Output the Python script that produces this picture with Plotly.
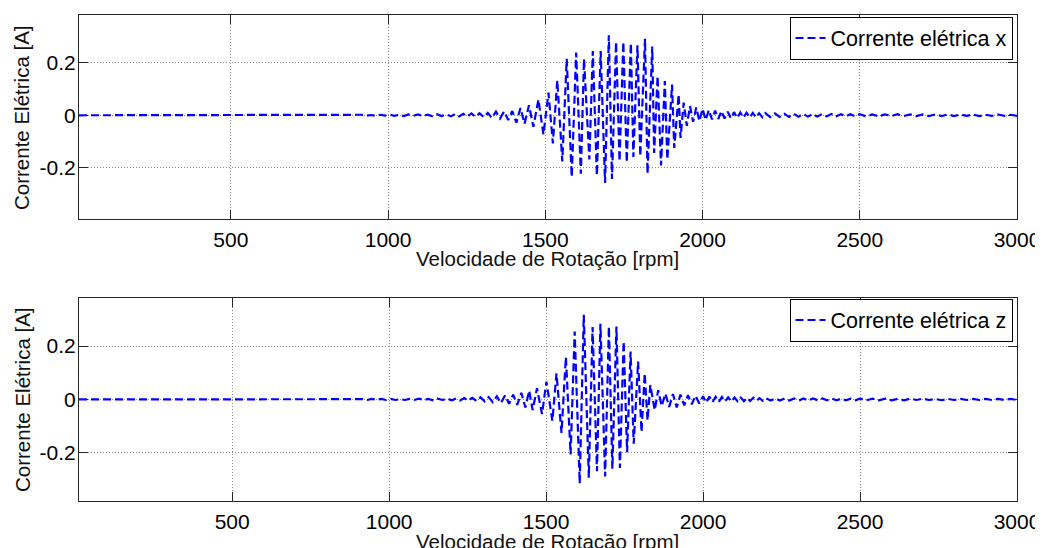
import plotly.graph_objects as go
from plotly.subplots import make_subplots

# ---------------- data ----------------
rpm_x = [17, 900,
         915, 930, 945, 960, 975, 990, 1005, 1020, 1035, 1050, 1065, 1080, 1095, 1110, 1125, 1140, 1155, 1170, 1185,
         1200, 1213, 1226, 1239, 1252, 1265, 1278, 1291, 1304, 1317, 1330, 1343, 1356, 1369, 1382, 1395, 1408, 1421, 1434, 1448,
         1462, 1478, 1494, 1510, 1524, 1538, 1554, 1568, 1584, 1598, 1613, 1623, 1640, 1651, 1664, 1676, 1690, 1702, 1712,
         1725, 1736, 1748, 1759, 1772, 1780, 1793, 1802, 1817, 1825, 1840, 1846, 1857, 1868, 1880, 1888, 1903, 1910, 1924,
         1930, 1940, 1950,
         1960, 1970, 1980, 1990, 2000, 2010, 2020, 2030, 2040, 2050, 2060, 2070, 2080, 2090, 2100, 2110, 2120, 2130, 2140,
         2150, 2160, 2170, 2180, 2190, 2200,
         2215, 2230, 2245, 2260, 2275, 2290, 2305, 2320, 2335, 2350, 2365, 2380, 2395, 2410, 2425, 2440, 2455, 2470, 2485, 2500,
         2520, 2540, 2560, 2580, 2600, 2620, 2640, 2660, 2680, 2700, 2720, 2740, 2760, 2780, 2800, 2820, 2840, 2860, 2880,
         2900, 2920, 2940, 2960, 2980, 3000]
corrente_x = [0, 0,
              0.002, -0.002, 0.001, -0.002, 0.002, -0.001, 0.003, -0.002, 0.002, -0.003, 0.003, -0.002, 0.003, -0.003,
              0.002, -0.003, 0.004, -0.003, 0.003,
              -0.004, 0.005, -0.004, 0.006, -0.005, 0.007, -0.006, 0.008, -0.007, 0.009, -0.010, 0.014, -0.012, 0.015,
              -0.018, 0.016, -0.028, 0.028, -0.032, 0.038,
              -0.044, 0.060, -0.073, 0.086, -0.107, 0.133, -0.175, 0.215, -0.234, 0.238, -0.222, 0.215, -0.168, 0.244,
              -0.229, 0.244, -0.257, 0.304, -0.242, 0.279, -0.175, 0.279, -0.179, 0.274, -0.158, 0.266, -0.156, 0.291,
              -0.222, 0.261, -0.143, 0.149, -0.191, 0.130, -0.168, 0.117, -0.124, 0.079, -0.086, 0.048, -0.040,
              0.035, -0.025, 0.030, -0.022, 0.025, -0.018, 0.020, -0.016, 0.018, -0.014, 0.016, -0.012, 0.014, -0.012,
              0.012, -0.010, 0.011, -0.009, 0.010, -0.008, 0.009, -0.008, 0.008, -0.007, 0.008,
              -0.007, 0.007, -0.006, 0.006, -0.006, 0.006, -0.005, 0.005, -0.005, 0.005, -0.005, 0.005, -0.004, 0.005,
              -0.004, 0.004, -0.004, 0.004, -0.004, 0.004,
              -0.004, 0.003, -0.004, 0.003, -0.003, 0.004, -0.003, 0.003, -0.003, 0.003, -0.003, 0.003, -0.003, 0.003,
              -0.003, 0.003, -0.002, 0.003, -0.003, 0.002, -0.002, 0.003, -0.002, 0.002, -0.002]

rpm_z = [12, 900,
         915, 930, 945, 960, 975, 990, 1005, 1020, 1035, 1050, 1065, 1080, 1095, 1110, 1125, 1140, 1155, 1170, 1185,
         1200, 1213, 1226, 1239, 1252, 1265, 1278, 1291, 1304, 1317, 1330, 1343, 1356, 1369, 1382, 1395, 1408, 1421, 1434, 1446,
         1457, 1471, 1487, 1501, 1520, 1533, 1549, 1563, 1578, 1591, 1607, 1620, 1636, 1648, 1662, 1673, 1688, 1700, 1711,
         1724, 1735, 1747, 1758, 1769, 1779, 1793, 1804, 1814, 1823, 1832, 1846, 1857,
         1868, 1880, 1892, 1904, 1916, 1928, 1940, 1952, 1964, 1976, 1988, 2000,
         2010, 2020, 2030, 2040, 2050, 2060, 2070, 2080, 2090, 2100, 2110, 2120, 2130, 2140, 2150, 2160, 2170, 2180, 2190, 2200,
         2215, 2230, 2245, 2260, 2275, 2290, 2305, 2320, 2335, 2350, 2365, 2380, 2395, 2410, 2425, 2440, 2455, 2470, 2485, 2500,
         2520, 2540, 2560, 2580, 2600, 2620, 2640, 2660, 2680, 2700, 2720, 2740, 2760, 2780, 2800, 2820, 2840, 2860, 2880,
         2900, 2920, 2940, 2960, 2980, 3000]
corrente_z = [0, 0,
              0.001, -0.002, 0.002, -0.001, 0.002, -0.002, 0.002, -0.002, 0.001, -0.002, 0.002, -0.002, 0.003, -0.002,
              0.002, -0.003, 0.003, -0.002, 0.003,
              -0.003, 0.004, -0.004, 0.005, -0.004, 0.006, -0.006, 0.008, -0.007, 0.009, -0.010, 0.012, -0.014, 0.015,
              -0.016, 0.018, -0.020, 0.025, -0.030, 0.033,
              -0.040, 0.042, -0.055, 0.067, -0.080, 0.098, -0.126, 0.159, -0.206, 0.255, -0.315, 0.318, -0.294, 0.272,
              -0.269, 0.284, -0.289, 0.274, -0.260, 0.274, -0.257, 0.218, -0.198, 0.180, -0.166, 0.142, -0.122, 0.098,
              -0.078, 0.054, -0.040, 0.035,
              -0.025, 0.022, -0.028, 0.020, -0.030, 0.018, -0.022, 0.016, -0.018, 0.014, -0.015, 0.012,
              -0.012, 0.011, -0.010, 0.010, -0.009, 0.009, -0.008, 0.008, -0.008, 0.007, -0.007, 0.007, -0.006, 0.006,
              -0.006, 0.006, -0.005, 0.005, -0.005, 0.005,
              -0.004, 0.004, -0.004, 0.004, -0.004, 0.004, -0.004, 0.004, -0.004, 0.004, -0.003, 0.004, -0.003, 0.003,
              -0.003, 0.003, -0.003, 0.003, -0.003, 0.003,
              -0.003, 0.003, -0.003, 0.003, -0.003, 0.002, -0.003, 0.003, -0.002, 0.003, -0.002, 0.002, -0.003, 0.002,
              -0.002, 0.002, -0.002, 0.002, -0.002, 0.002, -0.002, 0.002, -0.002, 0.002, -0.002]

x_ticks = [500, 1000, 1500, 2000, 2500, 3000]
y_ticks = [-0.2, 0, 0.2]
y_ticktext = ["-0.2", "0", "0.2"]
series_names = ["Corrente elétrica x", "Corrente elétrica z"]
x_title = "Velocidade de Rotação [rpm]"
y_title = "Corrente Elétrica [A]"

# ---------------- figure ----------------
FONT = "Liberation Sans, Arial, Helvetica, sans-serif"
OFF = 8                      # page body margin of the html page
W, H = 1043 - OFF, 548 - OFF
ml, mr, mt, mb = 79 - OFF, 25.5, 15 - OFF, 47
ph = H - mt - mb
pw = W - ml - mr

def py(p):  # paper y from reference-screen pixel
    return (H - mb - (p - OFF)) / ph

def px(p):  # paper x from reference-screen pixel
    return ((p - OFF) - ml) / pw

fig = make_subplots(rows=2, cols=1)

fig.add_trace(go.Scatter(x=rpm_x, y=corrente_x, mode="lines", name=series_names[0],
                         line=dict(color="#0000ff", width=2.2, dash="8px,4px"), legend="legend"), row=1, col=1)
fig.add_trace(go.Scatter(x=rpm_z, y=corrente_z, mode="lines", name=series_names[1],
                         line=dict(color="#0000ff", width=2.2, dash="8px,4px"), legend="legend2"), row=2, col=1)

axis_common = dict(showline=True, linecolor="#262626", linewidth=1, mirror="ticks",
                   ticks="inside", ticklen=9, tickcolor="#262626", tickwidth=1,
                   showgrid=True, gridcolor="#8c8c8c", griddash="1px,2px", gridwidth=1,
                   zeroline=False, automargin=False,
                   tickfont=dict(family=FONT, size=21, color="black"))

fig.update_xaxes(**axis_common, tickmode="array", tickvals=x_ticks, ticklabelstandoff=2)
fig.update_yaxes(**axis_common, tickmode="array", tickvals=y_ticks, ticktext=y_ticktext, ticklabelstandoff=-2)

fig.update_xaxes(range=[17, 3000], row=1, col=1)
fig.update_xaxes(range=[12, 3000], row=2, col=1)
fig.update_yaxes(range=[-0.394, 0.381], row=1, col=1)
fig.update_yaxes(range=[-0.381, 0.3825], row=2, col=1)

title_font = dict(family=FONT, size=20.5, color="#111111")
annotations = [
    dict(text=x_title, xref="paper", yref="paper", x=px(548), y=py(259), xanchor="center", yanchor="middle",
         showarrow=False, font=title_font),
    dict(text=x_title, xref="paper", yref="paper", x=px(548), y=py(541), xanchor="center", yanchor="middle",
         showarrow=False, font=title_font),
    dict(text=y_title, xref="paper", yref="paper", x=px(22), y=py(118), xanchor="center", yanchor="middle",
         textangle=-90, showarrow=False, font=title_font),
    dict(text=y_title, xref="paper", yref="paper", x=px(22), y=py(400), xanchor="center", yanchor="middle",
         textangle=-90, showarrow=False, font=title_font),
]

legend_common = dict(xanchor="right", yanchor="top", bgcolor="white", bordercolor="black", borderwidth=1,
                     font=dict(family=FONT, size=21.5, color="black"))

fig.update_layout(
    width=W, height=H,
    margin=dict(l=ml, r=mr, t=mt, b=mb, pad=0, autoexpand=False),
    paper_bgcolor="white", plot_bgcolor="white",
    font=dict(family=FONT, color="black"),
    xaxis=dict(domain=[0, 1]), xaxis2=dict(domain=[0, 1]),
    yaxis=dict(domain=[py(219), 1.0]),
    yaxis2=dict(domain=[0.0, py(297.5)]),
    legend=dict(x=px(1013), y=py(16.5), **legend_common),
    legend2=dict(x=px(1013), y=py(298.5), **legend_common),
    annotations=annotations,
    showlegend=True,
)

fig.write_html("out.html")
